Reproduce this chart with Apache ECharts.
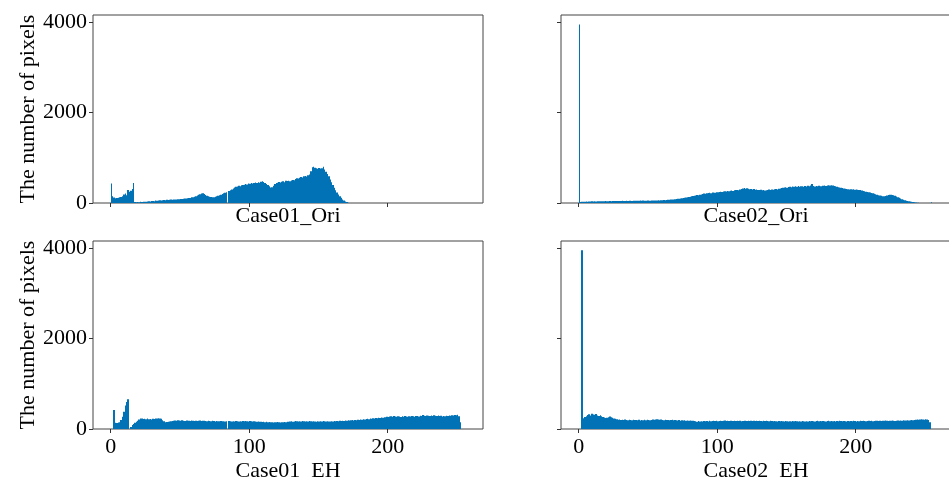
<!DOCTYPE html>
<html>
<head>
<meta charset="utf-8">
<script src="https://cdn.jsdelivr.net/npm/echarts@6/dist/echarts.min.js"></script>
<style>
  html, body { margin: 0; padding: 0; background: #fff; }
  #chart { width: 949px; height: 477px; }
</style>
</head>
<body>
<div id="chart"></div>
<script>
// histogram counts per grey level (0..255)
var case01Ori = [
  430, 150, 120, 105, 110, 115, 125, 135, 150, 190, 210, 170, 290, 250, 270, 310,
  440, 20, 15, 22, 18, 25, 20, 28, 30, 26, 35, 38, 33, 42, 45, 40,
  55, 50, 58, 62, 55, 60, 66, 63, 70, 65, 72, 75, 70, 78, 80, 76,
  85, 82, 90, 88, 95, 100, 98, 105, 110, 108, 125, 130, 140, 150, 165, 185,
  195, 210, 215, 200, 175, 160, 150, 140, 135, 125, 130, 140, 150, 160, 170, 185,
  200, 215, 225, 240, 0, 265, 280, 300, 320, 345, 360, 365, 380, 370, 395, 400,
  405, 420, 410, 430, 425, 440, 430, 445, 455, 440, 460, 450, 470, 480, 465, 445,
  420, 400, 370, 345, 350, 380, 420, 445, 450, 465, 455, 470, 480, 460, 490, 485,
  495, 480, 500, 510, 505, 530, 545, 540, 560, 575, 565, 590, 600, 585, 615, 630,
  700, 790, 800, 780, 770, 760, 775, 765, 770, 800, 740, 690, 640, 590, 520, 460,
  400, 340, 280, 230, 190, 150, 115, 80, 55, 35, 20, 8, 0, 0, 0, 0,
  0, 0, 0, 0, 0, 0, 0, 0, 0, 0, 0, 0, 0, 0, 0, 0,
  0, 0, 0, 0, 0, 0, 0, 0, 0, 0, 0, 0, 0, 0, 0, 0,
  0, 0, 0, 0, 0, 0, 0, 0, 0, 0, 0, 0, 0, 0, 0, 0,
  0, 0, 0, 0, 0, 0, 0, 0, 0, 0, 0, 0, 0, 0, 0, 0,
  0, 0, 0, 0, 0, 0, 0, 0, 0, 0, 0, 0, 0, 0, 0, 0
];
var case02Ori = [
  3950, 20, 25, 28, 30, 32, 30, 35, 33, 36, 34, 38, 35, 37, 40, 36,
  38, 40, 37, 42, 39, 41, 44, 40, 43, 45, 42, 46, 44, 47, 45, 48,
  46, 44, 49, 47, 50, 48, 46, 51, 49, 52, 50, 48, 53, 51, 54, 50,
  52, 55, 53, 50, 56, 54, 58, 55, 57, 60, 58, 62, 60, 65, 63, 68,
  70, 72, 75, 78, 80, 85, 88, 92, 96, 100, 105, 110, 115, 120, 128, 135,
  140, 148, 155, 160, 165, 175, 170, 180, 190, 200, 210, 205, 215, 220, 225, 218,
  230, 235, 228, 240, 236, 245, 250, 242, 255, 260, 252, 265, 258, 270, 275, 268,
  280, 285, 290, 282, 300, 310, 320, 330, 315, 325, 318, 305, 312, 300, 308, 295,
  300, 290, 285, 295, 280, 288, 275, 282, 290, 298, 285, 300, 292, 305, 310, 300,
  315, 320, 330, 340, 345, 350, 338, 355, 360, 348, 365, 358, 370, 362, 375, 360,
  368, 372, 360, 375, 365, 380, 370, 385, 420, 375, 365, 378, 370, 382, 368, 372,
  380, 385, 375, 390, 395, 385, 392, 388, 375, 370, 360, 350, 345, 338, 330, 320,
  315, 310, 305, 300, 305, 298, 302, 295, 300, 292, 290, 285, 275, 265, 258, 250,
  245, 238, 230, 222, 215, 205, 195, 185, 172, 165, 158, 150, 148, 155, 165, 175,
  180, 185, 178, 170, 160, 145, 130, 115, 100, 85, 70, 60, 52, 45, 40, 35,
  30, 22, 15, 10, 7, 4, 2, 0, 0, 0, 0, 0, 0, 0, 15, 0
];
var case01EH = [
  0, 0, 420, 140, 135, 145, 150, 200, 270, 380, 520, 600, 656, 0, 45, 90,
  110, 140, 160, 185, 210, 235, 230, 220, 225, 215, 230, 218, 222, 212, 225, 220,
  230, 235, 240, 232, 225, 195, 170, 150, 155, 160, 165, 172, 178, 185, 190, 182,
  195, 188, 180, 192, 185, 178, 186, 190, 182, 175, 188, 180, 176, 185, 178, 182,
  190, 175, 180, 185, 178, 172, 180, 176, 170, 182, 175, 168, 178, 172, 170, 176,
  170, 174, 168, 172, 0, 175, 170, 165, 172, 168, 175, 170, 166, 172, 168, 175,
  170, 178, 172, 168, 176, 170, 165, 172, 168, 160, 165, 158, 162, 155, 160, 152,
  158, 150, 155, 148, 152, 145, 150, 148, 155, 150, 145, 152, 148, 155, 150, 158,
  160, 165, 170, 162, 168, 175, 170, 166, 172, 168, 175, 170, 165, 172, 168, 175,
  170, 165, 172, 168, 162, 170, 165, 172, 168, 175, 170, 166, 172, 168, 165, 172,
  168, 175, 170, 176, 172, 180, 175, 185, 178, 190, 185, 195, 188, 192, 198, 190,
  200, 195, 205, 198, 210, 205, 215, 210, 220, 225, 218, 232, 228, 240, 235, 245,
  238, 250, 245, 255, 250, 262, 258, 270, 265, 275, 280, 272, 285, 278, 270, 282,
  275, 268, 280, 272, 285, 278, 270, 282, 275, 288, 280, 272, 290, 285, 278, 292,
  285, 310, 295, 288, 300, 292, 285, 298, 290, 305, 295, 288, 300, 285, 292, 278,
  290, 282, 295, 288, 300, 292, 305, 298, 310, 302, 315, 280, 150, 0, 0, 0
];
var case02EH = [
  0, 0, 3955, 240, 265, 280, 310, 325, 300, 335, 320, 315, 330, 300, 290, 305,
  280, 265, 255, 245, 250, 262, 275, 258, 250, 235, 225, 215, 205, 210, 200, 205,
  198, 208, 200, 195, 205, 200, 192, 205, 198, 200, 195, 205, 190, 200, 196, 202,
  195, 205, 198, 192, 200, 208, 202, 210, 215, 212, 205, 208, 200, 195, 205, 198,
  200, 195, 198, 205, 192, 200, 195, 190, 198, 185, 192, 188, 195, 185, 190, 182,
  188, 180, 185, 178, 170, 162, 175, 168, 172, 165, 178, 170, 175, 168, 180, 172,
  178, 185, 175, 180, 172, 178, 185, 175, 180, 188, 175, 182, 178, 185, 180, 175,
  182, 178, 185, 175, 180, 172, 178, 185, 180, 176, 182, 175, 180, 178, 185, 176,
  180, 175, 182, 178, 172, 180, 176, 185, 178, 172, 180, 175, 170, 178, 172, 168,
  175, 170, 178, 172, 168, 175, 170, 165, 172, 168, 175, 170, 178, 172, 165, 170,
  168, 175, 170, 165, 172, 168, 175, 170, 178, 172, 168, 175, 180, 172, 176, 170,
  178, 172, 168, 175, 180, 172, 178, 170, 175, 168, 176, 172, 180, 175, 170, 178,
  172, 168, 175, 170, 178, 172, 180, 175, 168, 176, 172, 180, 175, 182, 176, 170,
  178, 185, 175, 180, 172, 178, 185, 180, 176, 182, 178, 185, 180, 188, 182, 178,
  185, 180, 188, 182, 178, 185, 190, 182, 188, 185, 192, 186, 190, 195, 188, 192,
  198, 192, 200, 205, 210, 205, 212, 218, 210, 205, 215, 208, 198, 150, 0, 0
];

var panelNames = ['Case01_Ori', 'Case02_Ori', 'Case01_EH', 'Case02_EH'];
var panelData = [case01Ori, case02Ori, case01EH, case02EH];
var xTicks = [0, 100, 200];
var yTicks = [0, 2000, 4000];
var yLabel = 'The number of pixels';

var barColor = '#0072b5';
var font = 'Liberation Serif';

var chart = echarts.init(document.getElementById('chart'));

// grid boxes: [left, top] of each panel
var pos = [[93, 15], [561, 15], [93, 241], [561, 241]];

var grids = [], xAxes = [], yAxes = [], series = [];
for (var k = 0; k < 4; k++) {
  var isBottom = k >= 2, isLeft = k % 2 === 0;
  grids.push({
    left: pos[k][0], top: pos[k][1], width: 390, height: 188,
    outerBoundsMode: 'none', containLabel: false,
    show: true, borderColor: '#444', borderWidth: 1, backgroundColor: 'transparent'
  });
  xAxes.push({
    type: 'value', gridIndex: k, min: -12.8, max: 268.8,
    splitLine: { show: false },
    axisLine: { show: false, onZero: false },
    axisTick: { show: true, inside: false, length: 4, customValues: xTicks, lineStyle: { color: '#333' } },
    axisLabel: { show: isBottom, customValues: xTicks, margin: 7, fontFamily: font, fontSize: 22, color: '#000' },
    name: panelNames[k], nameLocation: 'middle', nameGap: isBottom ? 31 : 2,
    nameTextStyle: { fontFamily: font, fontSize: 22, color: '#000' }
  });
  yAxes.push({
    type: 'value', gridIndex: k, min: 0, max: 4160,
    splitLine: { show: false },
    axisLine: { show: false, onZero: false },
    axisTick: { show: true, inside: false, length: 4, customValues: yTicks, lineStyle: { color: '#333' } },
    axisLabel: {
      show: isLeft, customValues: yTicks, margin: 6,
      formatter: function (v) { return String(v); },
      fontFamily: font, fontSize: 22, color: '#000'
    },
    name: isLeft ? yLabel : '', nameLocation: 'middle', nameGap: 47,
    nameTextStyle: { fontFamily: font, fontSize: 22, color: '#000' }
  });
  series.push({
    type: 'custom', xAxisIndex: k, yAxisIndex: k,
    silent: true, clip: true,
    data: panelData[k].map(function (v, i) { return [i, v]; }),
    renderItem: function (params, api) {
      var bin = api.value(0), v = api.value(1);
      if (!v) return null;
      var p0 = api.coord([bin, 0]);
      var p1 = api.coord([bin + 1, v]);
      // snap bin edges to whole pixels so neighbouring bars meet without seams
      var x0 = Math.round(p0[0]), x1 = Math.round(p1[0]);
      if (x1 <= x0) x1 = x0 + 1;
      return {
        type: 'rect',
        shape: { x: x0, y: p1[1], width: x1 - x0, height: p0[1] - p1[1] },
        style: { fill: barColor }
      };
    }
  });
}

chart.setOption({
  animation: false,
  grid: grids,
  xAxis: xAxes,
  yAxis: yAxes,
  series: series
});
</script>
</body>
</html>
